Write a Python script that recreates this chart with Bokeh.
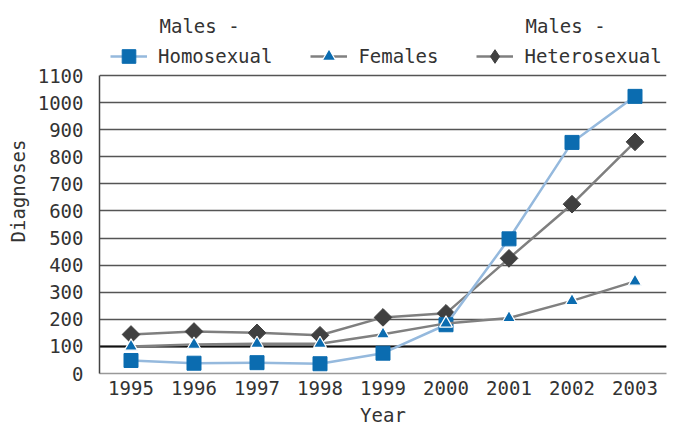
import math
from bokeh.plotting import figure
from bokeh.models import Legend, LegendItem, Label, Grid, FixedTicker, Range1d, FactorRange
from bokeh.embed import file_html
from bokeh.resources import INLINE

years = ["1995", "1996", "1997", "1998", "1999", "2000", "2001", "2002", "2003"]
males_homosexual = [48, 38, 40, 36, 75, 180, 497, 853, 1023]
females = [100, 107, 110, 110, 145, 185, 205, 268, 340]
males_heterosexual = [144, 155, 150, 141, 207, 222, 425, 625, 855]
y_ticks = [0, 100, 200, 300, 400, 500, 600, 700, 800, 900, 1000, 1100]
y_max = 1100

FONT = "DejaVu Sans Mono"
FS = "19px"
TXT = "#333333"
HET = "#404040"
BLUE = "#0b6cb0"

# layout: plotting area of 567 x 298 px for the data, with room above it for the legend
FW, DATA_H, FH = 567, 298, 365
y_top = y_max * FH / DATA_H
px_y = y_top / FH              # data units per pixel (vertical)
px_x = len(years) / FW         # category units per pixel (horizontal)

p = figure(frame_width=FW, frame_height=FH, x_range=FactorRange(*years, range_padding=0),
           y_range=Range1d(0, y_top), output_backend="svg", toolbar_location=None,
           min_border_left=99, min_border_right=8, min_border_top=8, min_border_bottom=46)
p.outline_line_color = None

# grid
p.xgrid.visible = False
p.ygrid.ticker = FixedTicker(ticks=y_ticks)
p.ygrid.grid_line_color = "#555555"
p.ygrid.grid_line_width = 1.4
g100 = Grid(dimension=1, ticker=FixedTicker(ticks=[100]), grid_line_color="#111111", grid_line_width=2)
p.add_layout(g100)

# axes
p.yaxis.ticker = FixedTicker(ticks=y_ticks)
p.yaxis.bounds = (0, y_max)
for ax in (p.xaxis[0], p.yaxis[0]):
    ax.major_tick_line_color = None
    ax.minor_tick_line_color = None
    ax.major_label_text_font = FONT
    ax.major_label_text_font_size = FS
    ax.major_label_text_color = TXT
    ax.axis_label_text_font = FONT
    ax.axis_label_text_font_size = FS
    ax.axis_label_text_font_style = "normal"
    ax.axis_label_text_color = TXT
p.yaxis.axis_line_color = "#444444"
p.yaxis.axis_line_width = 1.5
p.yaxis.major_label_standoff = 10
p.yaxis.axis_label = "Diagnoses"
p.yaxis.axis_label_standoff = 6
p.xaxis.axis_line_color = "#999999"
p.xaxis.axis_line_width = 1.5
p.xaxis.major_label_standoff = 1
p.xaxis.axis_label = "Year"
p.xaxis.axis_label_standoff = 6

# series (heterosexual first, females on top)
het_line = p.line(years, males_heterosexual, line_color="#7f7f7f", line_width=2.5)
het_mark = p.scatter(years, males_heterosexual, marker="square", angle=math.pi / 4, size=12.5,
                     fill_color=HET, line_color=HET)
# legend swatch for the diamond (draws nothing in the plot area)
het_key = p.scatter(years, [float("nan")] * len(years), marker="diamond", size=14,
                    fill_color=HET, line_color=HET)
hom_line = p.line(years, males_homosexual, line_color="#95b9dd", line_width=2.5)
hom_mark = p.scatter(years, males_homosexual, marker="square", size=14,
                     fill_color=BLUE, line_color=BLUE)
fem_line = p.line(years, females, line_color="#808080", line_width=2.5)
fem_mark = p.scatter(years, females, marker="triangle", size=13,
                     fill_color=BLUE, line_color="white", line_width=1.2)

legend = Legend(items=[
    LegendItem(label="Homosexual", renderers=[hom_line, hom_mark]),
    LegendItem(label="Females", renderers=[fem_line, fem_mark]),
    LegendItem(label="Heterosexual", renderers=[het_line, het_key]),
], orientation="horizontal", location=(11, DATA_H + 2), border_line_color=None,
    background_fill_alpha=0, label_text_font=FONT, label_text_font_size=FS,
    label_text_color=TXT, glyph_width=37, glyph_height=34, label_standoff=11, spacing=38,
    padding=6, margin=0)
p.add_layout(legend)

for xpx in (60, 426):
    p.add_layout(Label(x=xpx * px_x, y=(FH - 17) * px_y, text="Males -", text_font=FONT,
                       text_font_size=FS, text_color=TXT, text_baseline="middle",
                       text_align="left"))

open("out.html", "w").write(file_html(p, INLINE))
